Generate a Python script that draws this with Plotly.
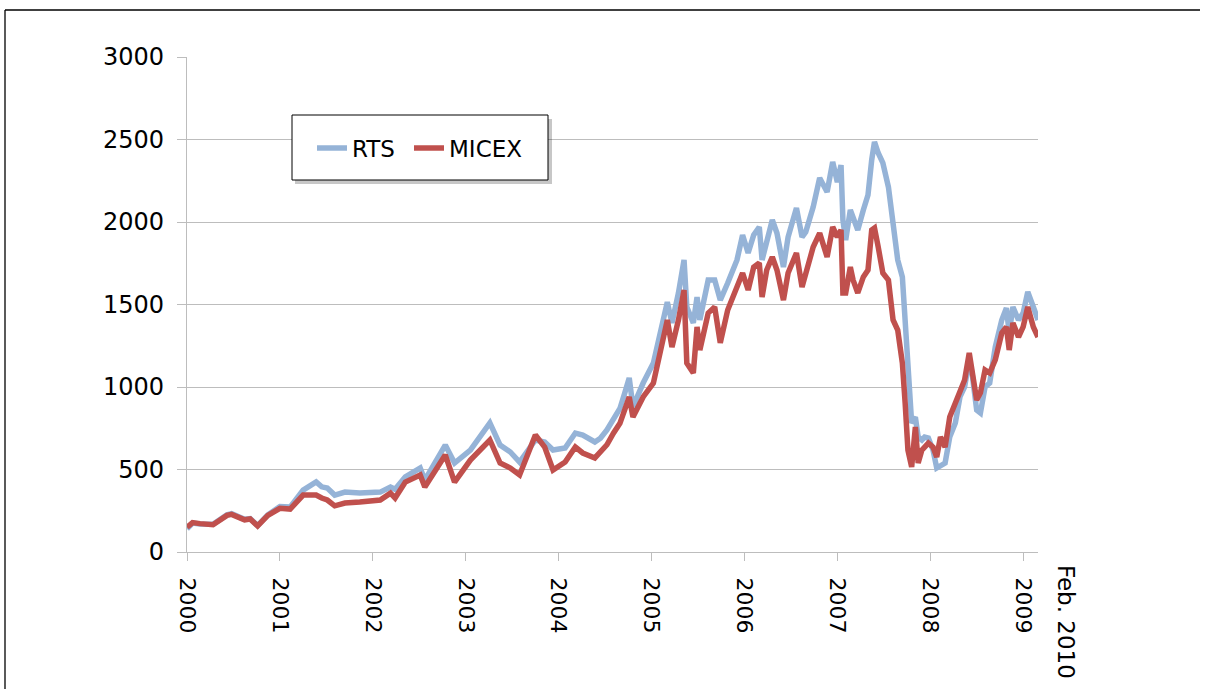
import plotly.graph_objects as go

# decimal-year positions of the sampled observations
years = [2000.00, 2000.06, 2000.14, 2000.28, 2000.43, 2000.48, 2000.62, 2000.68, 2000.76, 2000.87,
         2001.00, 2001.11, 2001.25, 2001.39, 2001.45, 2001.51, 2001.59, 2001.70, 2001.86, 2002.08,
         2002.19, 2002.24, 2002.35, 2002.51, 2002.56, 2002.69, 2002.78, 2002.88, 2003.05, 2003.26,
         2003.37, 2003.48, 2003.58, 2003.75, 2003.85, 2003.94, 2004.07, 2004.18, 2004.26, 2004.39,
         2004.45, 2004.52, 2004.59, 2004.66, 2004.71, 2004.76, 2004.80, 2004.91, 2005.02, 2005.09,
         2005.17, 2005.22, 2005.29, 2005.35, 2005.38, 2005.45, 2005.49, 2005.52, 2005.61, 2005.68,
         2005.74, 2005.82, 2005.92, 2005.98, 2006.04, 2006.10, 2006.16, 2006.19, 2006.24, 2006.30,
         2006.35, 2006.42, 2006.47, 2006.56, 2006.62, 2006.66, 2006.74, 2006.81, 2006.89, 2006.95,
         2007.00, 2007.04, 2007.06, 2007.09, 2007.14, 2007.17, 2007.22, 2007.28, 2007.33, 2007.37,
         2007.40, 2007.44, 2007.49, 2007.55, 2007.60, 2007.65, 2007.70, 2007.73, 2007.76, 2007.80,
         2007.84, 2007.87, 2007.91, 2007.94, 2007.98, 2008.03, 2008.07, 2008.11, 2008.16, 2008.21,
         2008.27, 2008.32, 2008.37, 2008.42, 2008.45, 2008.50, 2008.54, 2008.59, 2008.64, 2008.70,
         2008.77, 2008.82, 2008.85, 2008.89, 2008.95, 2009.00, 2009.05, 2009.11, 2009.16]

rts = [140, 175, 170, 168, 225, 232, 198, 202, 160, 225,
       275, 272, 375, 425, 395, 388, 345, 363, 357, 363,
       394, 380, 455, 509, 436, 557, 648, 539, 618, 782,
       648, 606, 545, 679, 667, 618, 630, 721, 709, 667,
       690, 740, 812, 870, 960, 1055, 880, 1024, 1145, 1327,
       1515, 1388, 1570, 1770, 1485, 1388, 1545, 1406, 1648, 1648,
       1527, 1630, 1770, 1921, 1812, 1921, 1970, 1770, 1890, 2012,
       1933, 1727, 1909, 2085, 1909, 1939, 2091, 2267, 2182, 2364,
       2242, 2345, 2012, 1890, 2073, 2030, 1952, 2073, 2164, 2376,
       2485, 2418, 2358, 2212, 1970, 1770, 1667, 1364, 1085, 782,
       818, 697, 679, 697, 691, 618, 509, 527, 539, 697,
       782, 940, 1000, 1164, 1085, 860, 842, 1000, 1024, 1242,
       1406, 1479, 1327, 1485, 1406, 1448, 1576, 1485, 1406]

micex = [150, 178, 172, 165, 222, 228, 195, 200, 158, 222,
         265, 260, 345, 345, 327, 315, 280, 297, 303, 315,
         357, 327, 424, 467, 394, 515, 588, 424, 557, 679,
         539, 509, 467, 709, 636, 497, 545, 636, 600, 570,
         610, 650, 720, 780, 860, 940, 818, 940, 1024, 1206,
         1406, 1242, 1406, 1588, 1145, 1085, 1364, 1224, 1448, 1485,
         1267, 1467, 1606, 1691, 1588, 1727, 1752, 1545, 1709, 1788,
         1709, 1527, 1691, 1812, 1606, 1691, 1848, 1933, 1788, 1970,
         1909, 1952, 1570, 1570, 1727, 1648, 1570, 1667, 1709, 1952,
         1964, 1848, 1691, 1648, 1406, 1345, 1145, 903, 618, 515,
         758, 539, 618, 636, 660, 636, 576, 697, 636, 818,
         903, 982, 1042, 1206, 1103, 921, 964, 1103, 1085, 1164,
         1327, 1364, 1224, 1388, 1303, 1364, 1485, 1364, 1303]

tick_years = [2000, 2001, 2002, 2003, 2004, 2005, 2006, 2007, 2008, 2009]
tick_labels = ["2000", "2001", "2002", "2003", "2004", "2005", "2006", "2007", "2008", "2009"]
end_label = "Feb. 2010"
series_names = ["RTS", "MICEX"]
series_colors = ["#95B3D7", "#C0504D"]

W, H = 1210, 689
L, R, T, B = 187, 1038, 57, 552  # plot area in pixels


def px(x):
    return (x - L) / (R - L)


def py(y):
    return (B - y) / (B - T)


FONT = "DejaVu Sans"
GRID = "#BDBDBD"

fig = go.Figure()
for name, vals, col, lg in zip(series_names, [rts, micex], series_colors, ["legend", "legend2"]):
    fig.add_trace(go.Scatter(x=years, y=vals, name=name, mode="lines", legend=lg,
                             line=dict(color=col, width=5.5)))

shapes = [
    # outer frame (left and top edges)
    dict(type="line", xref="paper", yref="paper", x0=px(5), x1=px(5), y0=py(10), y1=py(700),
         line=dict(color="#000000", width=1.3)),
    dict(type="line", xref="paper", yref="paper", x0=px(5), x1=px(1200), y0=py(10), y1=py(10),
         line=dict(color="#000000", width=1.3)),
    # legend shadow and box
    dict(type="rect", xref="paper", yref="paper", x0=px(295), x1=px(552), y0=py(119), y1=py(184),
         fillcolor="rgba(0,0,0,0.22)", line=dict(width=0), layer="above"),
    dict(type="rect", xref="paper", yref="paper", x0=px(292), x1=px(548), y0=py(115), y1=py(180),
         fillcolor="#FFFFFF", line=dict(color="#000000", width=1), layer="above"),
]

legend_common = dict(orientation="h", xanchor="left", yanchor="middle", y=py(148),
                     font=dict(size=23, family=FONT), bgcolor="rgba(0,0,0,0)",
                     borderwidth=0, itemwidth=30, tracegroupgap=0)

fig.update_layout(
    width=W, height=H,
    margin=dict(l=L, r=W - R, t=T, b=H - B, pad=0),
    paper_bgcolor="white", plot_bgcolor="white",
    font=dict(family=FONT, color="#000000"),
    showlegend=True,
    legend=dict(x=px(312), **legend_common),
    legend2=dict(x=px(409), **legend_common),
    shapes=shapes,
    xaxis=dict(range=[2000, 2009.16], tickmode="array", tickvals=tick_years, ticktext=tick_labels,
               tickangle=90, ticks="outside", ticklen=8, tickcolor=GRID, tickwidth=1.3,
               showgrid=False, showline=True, linecolor=GRID, linewidth=1.3, zeroline=False,
               tickfont=dict(size=22, family=FONT), ticklabelstandoff=12),
    yaxis=dict(range=[0, 3000], dtick=500, tick0=0, ticks="outside", ticklen=9, tickcolor=GRID,
               tickwidth=1.3, showgrid=True, gridcolor=GRID, gridwidth=1.3, showline=True,
               linecolor=GRID, linewidth=1.3, zeroline=False,
               tickfont=dict(size=24, family=FONT), ticklabelstandoff=8),
    annotations=[dict(text=end_label, textangle=90, xref="paper", yref="paper",
                      x=px(1066), y=py(563), xanchor="center", yanchor="top", showarrow=False,
                      font=dict(size=23, family=FONT, color="#000000"))],
)

fig.write_html("out.html", config={"displayModeBar": False},
               post_script="document.body.style.margin='0';")
